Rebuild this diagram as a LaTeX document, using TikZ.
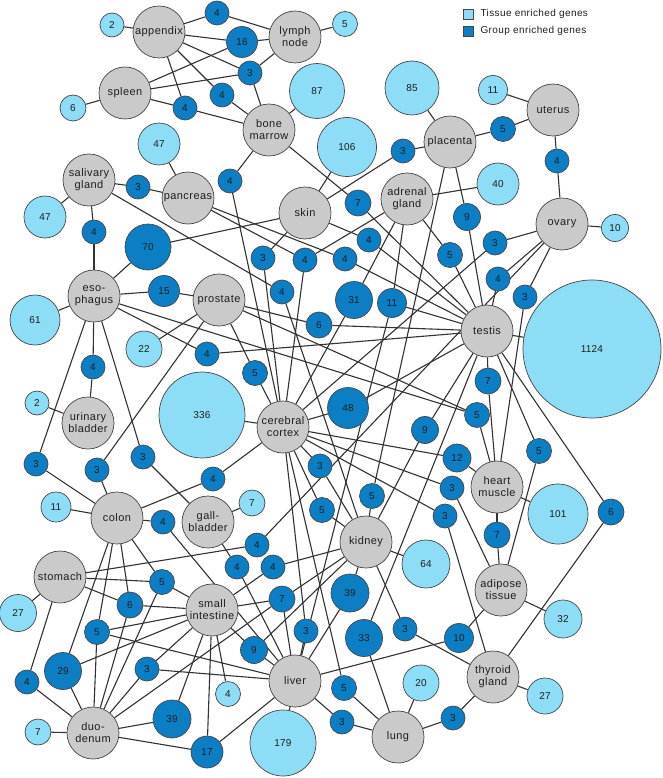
\documentclass[tikz,border=0pt]{standalone}
\usepackage{fontspec}
\setmainfont{Liberation Sans}
\newfontfamily\labfont[LetterSpace=4]{Liberation Sans}
\newfontfamily\numfont[LetterSpace=2]{Liberation Sans}
\usetikzlibrary{backgrounds}
\definecolor{tgray}{RGB}{202,202,202}
\definecolor{lblue}{RGB}{142,221,246}
\definecolor{dblue}{RGB}{12,126,196}
\definecolor{edgec}{RGB}{50,50,50}
\definecolor{nodeline}{RGB}{70,70,70}
\definecolor{txt}{RGB}{30,30,30}
\newcommand\TisN[4]{\node[tis] (#1) at (#2,#3) {#4};}
\newcommand\TeN[5]{\node[ten,minimum size=#4pt] (#1) at (#2,#3) {#5};}
\newcommand\GeN[5]{\node[gen,minimum size=#4pt] (#1) at (#2,#3) {#5};}
\begin{document}
\begin{tikzpicture}[x=1pt,y=-1pt,
  tis/.style={circle,draw=nodeline,line width=0.7pt,fill=tgray,minimum size=52pt,inner sep=0pt,align=center,text=txt,font=\labfont\fontsize{11}{12}\selectfont},
  ten/.style={circle,draw=nodeline,line width=0.7pt,fill=lblue,inner sep=0pt,text=txt,font=\numfont\fontsize{10}{12}\selectfont},
  gen/.style={circle,draw=nodeline,line width=0.7pt,fill=dblue,inner sep=0pt,text=txt,font=\numfont\fontsize{10}{12}\selectfont},
  conn/.style={draw=edgec,line width=1.1pt},
  legbox/.style={draw=nodeline,line width=0.7pt,minimum size=10pt,inner sep=0pt},
  legtext/.style={anchor=west,text=txt,font=\labfont\fontsize{10}{12}\selectfont}]
\useasboundingbox (0,0) rectangle (662,778);
% legend
\node[legbox,fill=lblue] (lg1) at (468,14) {};
\node[legtext] (lt1) at (477,14) {Tissue enriched genes};
\node[legbox,fill=dblue] (lg2) at (468,31) {};
\node[legtext] (lt2) at (477,31) {Group enriched genes};
% tissues
\TisN{ap}{159}{32}{appendix}
\TisN{ly}{295}{37}{lymph\\node}
\TisN{sp}{125}{93}{spleen}
\TisN{bm}{269}{130}{bone\\marrow}
\TisN{pl}{450}{142}{placenta}
\TisN{ut}{553}{110}{uterus}
\TisN{sa}{89}{180}{salivary\\gland}
\TisN{pa}{188}{198}{pancreas}
\TisN{sk}{305}{213}{skin}
\TisN{ad}{407}{199}{adrenal\\gland}
\TisN{ov}{562}{224}{ovary}
\TisN{es}{94}{296}{eso-\\phagus}
\TisN{pr}{219}{300}{prostate}
\TisN{te}{487}{331}{testis}
\TisN{ub}{88}{423}{urinary\\bladder}
\TisN{cc}{283}{427}{cerebral\\cortex}
\TisN{hm}{497}{487}{heart\\muscle}
\TisN{co}{117}{518}{colon}
\TisN{gb}{208}{522}{gall-\\bladder}
\TisN{ki}{366}{542}{kidney}
\TisN{adi}{501}{590}{adipose\\tissue}
\TisN{st}{60}{577}{stomach}
\TisN{si}{212}{610}{small\\intestine}
\TisN{li}{295}{681}{liver}
\TisN{th}{493}{677}{thyroid\\gland}
\TisN{du}{93}{733}{duo-\\denum}
\TisN{lu}{398}{737}{lung}
% tissue enriched
\TeN{t1}{112}{25}{24}{2}
\TeN{t2}{345}{24}{25}{5}
\TeN{t3}{73}{108}{26}{6}
\TeN{t4}{317}{91}{55}{87}
\TeN{t5}{412}{88}{54}{85}
\TeN{t6}{493}{90}{29}{11}
\TeN{t7}{347}{147}{59}{106}
\TeN{t8}{159}{144}{42}{47}
\TeN{t9}{45}{217}{42}{47}
\TeN{t10}{498}{184}{42}{40}
\TeN{t11}{615}{228}{27}{10}
\TeN{t12}{35}{320}{50}{61}
\TeN{t13}{144}{349}{36}{22}
\TeN{t14}{592}{349}{138}{1124}
\TeN{t15}{37}{403}{24}{2}
\TeN{t16}{202}{415}{86}{336}
\TeN{t17}{56}{507}{30}{11}
\TeN{t18}{252}{503}{26}{7}
\TeN{t19}{558}{514}{60}{101}
\TeN{t20}{426}{564}{48}{64}
\TeN{t21}{563}{619}{38}{32}
\TeN{t22}{18}{613}{37}{27}
\TeN{t23}{545}{696}{36}{27}
\TeN{t24}{421}{683}{36}{20}
\TeN{t25}{228}{694}{25}{4}
\TeN{t26}{38}{732}{26}{7}
\TeN{t27}{283}{743}{66}{179}
% group enriched
\GeN{g1}{217}{13}{24}{4}
\GeN{g2}{242}{42}{31}{16}
\GeN{g3}{250}{73}{24}{3}
\GeN{g4}{222}{95}{24}{4}
\GeN{g5}{185}{108}{24}{4}
\GeN{g6}{230}{181}{24}{4}
\GeN{g7}{403}{151}{24}{3}
\GeN{g8}{503}{129}{25}{5}
\GeN{g9}{557}{161}{24}{4}
\GeN{g10}{138}{187}{24}{3}
\GeN{g11}{358}{203}{26}{7}
\GeN{g12}{94}{232}{24}{4}
\GeN{g13}{148}{247}{46}{70}
\GeN{g14}{467}{217}{27}{9}
\GeN{g15}{369}{240}{24}{4}
\GeN{g16}{450}{255}{25}{5}
\GeN{g17}{263}{258}{24}{3}
\GeN{g18}{305}{260}{24}{4}
\GeN{g19}{345}{259}{24}{4}
\GeN{g20}{495}{243}{24}{3}
\GeN{g21}{498}{279}{24}{4}
\GeN{g22}{525}{297}{24}{3}
\GeN{g23}{164}{291}{31}{15}
\GeN{g24}{282}{292}{24}{4}
\GeN{g25}{354}{300}{37}{31}
\GeN{g26}{392}{303}{29}{11}
\GeN{g27}{319}{325}{26}{6}
\GeN{g28}{207}{354}{24}{4}
\GeN{g29}{93}{367}{24}{4}
\GeN{g30}{255}{373}{25}{5}
\GeN{g31}{488}{381}{26}{7}
\GeN{g32}{348}{408}{41}{48}
\GeN{g33}{477}{415}{25}{5}
\GeN{g34}{425}{430}{27}{9}
\GeN{g35}{457}{458}{28}{12}
\GeN{g36}{452}{488}{24}{3}
\GeN{g37}{445}{516}{24}{3}
\GeN{g38}{539}{451}{25}{5}
\GeN{g39}{611}{512}{26}{6}
\GeN{g40}{497}{535}{26}{7}
\GeN{g41}{320}{466}{24}{3}
\GeN{g42}{322}{510}{25}{5}
\GeN{g43}{372}{496}{25}{5}
\GeN{g44}{257}{545}{24}{4}
\GeN{g45}{237}{567}{24}{4}
\GeN{g46}{273}{567}{24}{4}
\GeN{g47}{36}{464}{24}{3}
\GeN{g48}{97}{470}{24}{3}
\GeN{g49}{143}{457}{24}{3}
\GeN{g50}{213}{479}{24}{4}
\GeN{g51}{163}{522}{24}{4}
\GeN{g52}{162}{582}{25}{5}
\GeN{g53}{130}{605}{26}{6}
\GeN{g54}{97}{632}{25}{5}
\GeN{g55}{63}{671}{37}{29}
\GeN{g56}{27}{682}{24}{4}
\GeN{g57}{147}{669}{24}{3}
\GeN{g58}{172}{719}{38}{39}
\GeN{g59}{207}{752}{32}{17}
\GeN{g60}{282}{599}{26}{7}
\GeN{g61}{350}{593}{38}{39}
\GeN{g62}{306}{631}{24}{3}
\GeN{g63}{254}{650}{27}{9}
\GeN{g64}{364}{638}{37}{33}
\GeN{g65}{405}{629}{24}{3}
\GeN{g66}{344}{688}{25}{5}
\GeN{g67}{342}{722}{24}{3}
\GeN{g68}{459}{638}{29}{10}
\GeN{g69}{453}{718}{24}{3}
\begin{pgfonlayer}{background}
\foreach \a/\b in {ap/t1,ly/t2,sp/t3,bm/t4,pl/t5,ut/t6,sk/t7,pa/t8,sa/t9,ad/t10,ov/t11,es/t12,pr/t13,te/t14,ub/t15,cc/t16,co/t17,gb/t18,hm/t19,ki/t20,adi/t21,st/t22,th/t23,lu/t24,si/t25,du/t26,li/t27}
  \draw[conn] (\a) -- (\b);
\foreach \a/\b in {g1/ap,g1/ly,g2/ap,g2/sp,g2/ly,g3/ap,g3/sp,g3/ly,g3/bm,g4/ap,g4/bm,g5/ap,g5/sp,g5/bm,
  g6/bm,g6/cc,g7/pl,g7/sk,g8/pl,g8/ut,g9/ut,g9/ov,g10/sa,g10/pa,g11/bm,g11/te,g12/sa,g12/es,g13/es,g13/sk,
  g14/pl,g14/te,g15/sk,g15/te,g16/ad,g16/te,g17/sk,g17/cc,g18/pa,g18/ad,g18/cc,g19/pa,g19/te,g20/ov,g20/cc,
  g21/ov,g21/te,g22/ov,g22/hm,g23/es,g23/pr,g24/sa,g24/ki,g25/ad,g25/cc,g26/ad,g26/te,g26/li,g27/pr,g27/te,
  g28/es,g28/te,g29/es,g29/ub,g30/pr,g30/cc,g31/te,g31/hm,g32/cc,g32/te,g33/es,g33/pr,g33/hm,g34/te,g34/ki,
  g35/cc,g35/hm,g36/cc,g36/adi,g37/cc,g37/th,g38/te,g38/adi,g39/te,g39/th,g40/hm,g40/adi,g41/cc,g41/ki,
  g42/cc,g42/ki,g43/pl,g43/ki,g44/st,g44/ov,g45/gb,g45/li,g46/ki,g46/si,g47/es,g47/co,g48/pr,g48/co,
  g49/es,g49/gb,g50/co,g50/cc,g51/co,g51/li,g52/co,g52/st,g52/si,g52/du,g53/co,g53/st,g53/si,g53/du,
  g54/co,g54/si,g54/li,g54/du,g55/co,g55/si,g55/du,g56/st,g56/du,g57/du,g57/si,g57/li,g58/du,g58/si,
  g59/du,g59/li,g59/si,g60/si,g60/du,g60/li,g60/ki,g61/ki,g61/li,g62/cc,g62/li,g63/si,g63/ki,g63/li,
  g64/te,g64/lu,g65/ki,g65/th,g66/cc,g66/lu,g67/li,g67/lu,g68/li,g68/adi,g69/lu,g69/th}
  \draw[conn] (\a) -- (\b);
\end{pgfonlayer}
\end{tikzpicture}
\end{document}
